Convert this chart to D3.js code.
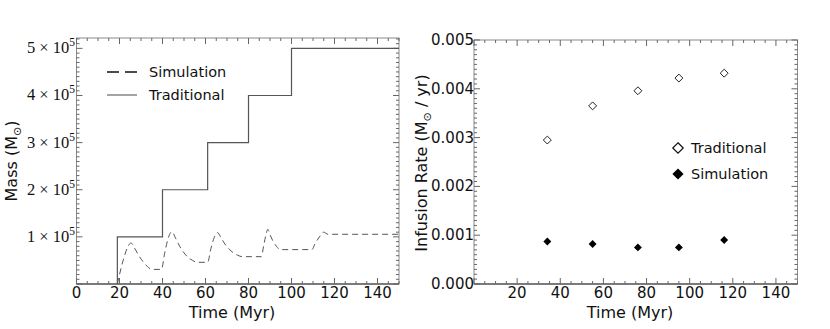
<!DOCTYPE html>
<html>
<head>
<meta charset="utf-8">
<script src="https://cdn.jsdelivr.net/npm/d3@7"></script>
<style>
  body { margin: 0; background: #fff; }
  svg text { font-family: "DejaVu Sans", sans-serif; fill: #111; }
</style>
</head>
<body>
<svg id="chart" width="830" height="329"></svg>
<script>
// Left panel: traditional (step) and simulation (dashed) mass vs time
const tradTime = [19, 19, 40, 61, 80, 100, 150];
const tradMass = [0, 1e5, 2e5, 3e5, 4e5, 5e5, 5e5];

const simTime = [19, 20, 22, 24, 25.3, 27, 29, 31, 33, 35, 39.5,
  41, 42.5, 44.4, 46, 48, 50, 52, 54, 56, 61,
  62.5, 64, 65.6, 67, 69, 71, 73, 75, 77, 86,
  87, 88, 89, 90, 91.5, 93, 94.7, 109.5, 111, 113, 114.9, 117, 150];
const simMass = [0, 0.2e5, 0.55e5, 0.8e5, 0.87e5, 0.76e5, 0.6e5, 0.47e5, 0.37e5, 0.31e5, 0.31e5,
  0.65e5, 0.95e5, 1.11e5, 0.98e5, 0.8e5, 0.66e5, 0.56e5, 0.5e5, 0.46e5, 0.46e5,
  0.75e5, 0.98e5, 1.09e5, 1.0e5, 0.85e5, 0.74e5, 0.66e5, 0.61e5, 0.58e5, 0.58e5,
  0.8e5, 1.02e5, 1.16e5, 1.05e5, 0.9e5, 0.8e5, 0.73e5, 0.73e5, 0.86e5, 1.0e5, 1.1e5, 1.055e5, 1.055e5];

const massTicks = [1e5, 2e5, 3e5, 4e5, 5e5];
const timeTicksLeft = [0, 20, 40, 60, 80, 100, 120, 140];

// Right panel: infusion rates
const rateTime = [34, 55, 76, 95, 116];
const rateTrad = [0.00295, 0.00365, 0.00396, 0.00422, 0.00432];
const rateSim = [0.00087, 0.00082, 0.00075, 0.00075, 0.0009];
const rateTicks = [0, 0.001, 0.002, 0.003, 0.004, 0.005];
const timeTicksRight = [20, 40, 60, 80, 100, 120, 140];

const svg = d3.select('#chart');

// draw a framed panel with inward ticks on all four sides
function frame(g, x, y, xMinor, yMinor) {
  const [x0, x1] = x.range(), [y0, y1] = y.range();
  g.append('rect')
    .attr('x', x0).attr('y', y1)
    .attr('width', x1 - x0).attr('height', y0 - y1)
    .attr('fill', 'none').attr('stroke', '#8a8a8a').attr('stroke-width', 1);
  g.append('line').attr('x1', x0).attr('x2', x1).attr('y1', y0).attr('y2', y0)
    .attr('stroke', '#333').attr('stroke-width', 1.2);

  const tk = g.append('g').attr('stroke', '#666').attr('stroke-width', 1);
  xMinor.forEach(v => {
    const big = v % 20 === 0, len = big ? 6 : 3;
    tk.append('line').attr('x1', x(v)).attr('x2', x(v)).attr('y1', y0).attr('y2', y0 - len);
    tk.append('line').attr('x1', x(v)).attr('x2', x(v)).attr('y1', y1).attr('y2', y1 + len);
  });
  yMinor.forEach(d => {
    const len = d.big ? 6 : 3;
    tk.append('line').attr('x1', x0).attr('x2', x0 + len).attr('y1', y(d.v)).attr('y2', y(d.v));
    tk.append('line').attr('x1', x1).attr('x2', x1 - len).attr('y1', y(d.v)).attr('y2', y(d.v));
  });
}

// ---------------- Left panel ----------------
const xL = d3.scaleLinear().domain([0, 150]).range([76.5, 399]);
const yL = d3.scaleLinear().domain([0, 5.22e5]).range([284, 38]);
const gL = svg.append('g');

const minorX = d3.range(0, 151, 5);
const minorYL = d3.range(0, 5.21e5, 1e4).map(v => ({ v: v, big: Math.round(v / 1e4) % 10 === 0 }));
frame(gL, xL, yL, minorX, minorYL);

gL.append('g').selectAll('text').data(timeTicksLeft).join('text')
  .attr('x', d => xL(d)).attr('y', 298)
  .attr('text-anchor', 'middle').attr('font-size', 15)
  .text(d => d);

const yLab = gL.append('g').selectAll('text').data(massTicks).join('text')
  .attr('x', 75).attr('y', d => yL(d) + 5)
  .attr('text-anchor', 'end').attr('font-size', 16.5)
  .style('font-family', '"Liberation Serif", serif');
yLab.append('tspan').text(d => (d / 1e5) + ' × 10');
yLab.append('tspan').attr('dy', -7).attr('font-size', 11.5).text('5');

gL.append('text').attr('x', 232).attr('y', 318).attr('text-anchor', 'middle')
  .attr('font-size', 16).text('Time (Myr)');
const mt = gL.append('text').attr('transform', 'translate(17,' + 161 + ') rotate(-90)')
  .attr('text-anchor', 'middle').attr('font-size', 16);
mt.append('tspan').text('Mass (M');
mt.append('tspan').attr('font-size', 11).attr('dy', 4).text('⊙');
mt.append('tspan').attr('dy', -4).text(')');

const tradLine = d3.line().curve(d3.curveStepAfter)
  .x((d, i) => xL(tradTime[i])).y(d => yL(d));
gL.append('path').attr('d', tradLine(tradMass))
  .attr('fill', 'none').attr('stroke', '#555').attr('stroke-width', 1.2);

const simLine = d3.line().curve(d3.curveMonotoneX)
  .x((d, i) => xL(simTime[i])).y(d => yL(d));
gL.append('path').attr('d', simLine(simMass))
  .attr('fill', 'none').attr('stroke', '#555').attr('stroke-width', 1)
  .attr('stroke-dasharray', '6,4');

// legend
const legL = gL.append('g');
legL.append('line').attr('x1', 107).attr('x2', 137).attr('y1', 72).attr('y2', 72)
  .attr('stroke', '#111').attr('stroke-width', 1.5).attr('stroke-dasharray', '12,6');
legL.append('line').attr('x1', 107).attr('x2', 137).attr('y1', 95).attr('y2', 95)
  .attr('stroke', '#666').attr('stroke-width', 1.2);
legL.append('text').attr('x', 149).attr('y', 77).attr('font-size', 14.5).text('Simulation');
legL.append('text').attr('x', 149).attr('y', 100).attr('font-size', 14.5).text('Traditional');

// ---------------- Right panel ----------------
const xR = d3.scaleLinear().domain([0, 150]).range([474, 797.5]);
const yR = d3.scaleLinear().domain([0, 0.005]).range([284, 40]);
const gR = svg.append('g');

const minorYR = d3.range(0, 51).map(i => ({ v: i * 0.0001, big: i % 10 === 0 }));
frame(gR, xR, yR, minorX, minorYR);

gR.append('g').selectAll('text').data(timeTicksRight).join('text')
  .attr('x', d => xR(d)).attr('y', 298)
  .attr('text-anchor', 'middle').attr('font-size', 15)
  .text(d => d);
gR.append('g').selectAll('text').data(rateTicks).join('text')
  .attr('x', 474).attr('y', d => yR(d) + 5)
  .attr('text-anchor', 'end').attr('font-size', 15)
  .text(d => d3.format('.3f')(d));

gR.append('text').attr('x', 630).attr('y', 318).attr('text-anchor', 'middle')
  .attr('font-size', 16).text('Time (Myr)');
const rt = gR.append('text').attr('transform', 'translate(427,' + 163 + ') rotate(-90)')
  .attr('text-anchor', 'middle').attr('font-size', 16);
rt.append('tspan').text('Infusion Rate (M');
rt.append('tspan').attr('font-size', 11).attr('dy', 4).text('⊙');
rt.append('tspan').attr('dy', -4).text(' / yr)');

const diamond = d3.symbol().type(d3.symbolDiamond2).size(40);
gR.append('g').selectAll('path').data(rateTrad).join('path')
  .attr('d', diamond)
  .attr('transform', (d, i) => `translate(${xR(rateTime[i])},${yR(d)})`)
  .attr('fill', 'none').attr('stroke', '#222').attr('stroke-width', 1);
gR.append('g').selectAll('path').data(rateSim).join('path')
  .attr('d', diamond)
  .attr('transform', (d, i) => `translate(${xR(rateTime[i])},${yR(d)})`)
  .attr('fill', '#000');

// legend
const legR = gR.append('g');
legR.append('path').attr('d', d3.symbol().type(d3.symbolDiamond2).size(70))
  .attr('transform', 'translate(678,148)').attr('fill', 'none').attr('stroke', '#111').attr('stroke-width', 1.2);
legR.append('path').attr('d', d3.symbol().type(d3.symbolDiamond2).size(80))
  .attr('transform', 'translate(678,174)').attr('fill', '#000');
legR.append('text').attr('x', 691).attr('y', 153).attr('font-size', 14.5).text('Traditional');
legR.append('text').attr('x', 691).attr('y', 179).attr('font-size', 14.5).text('Simulation');
</script>
</body>
</html>
